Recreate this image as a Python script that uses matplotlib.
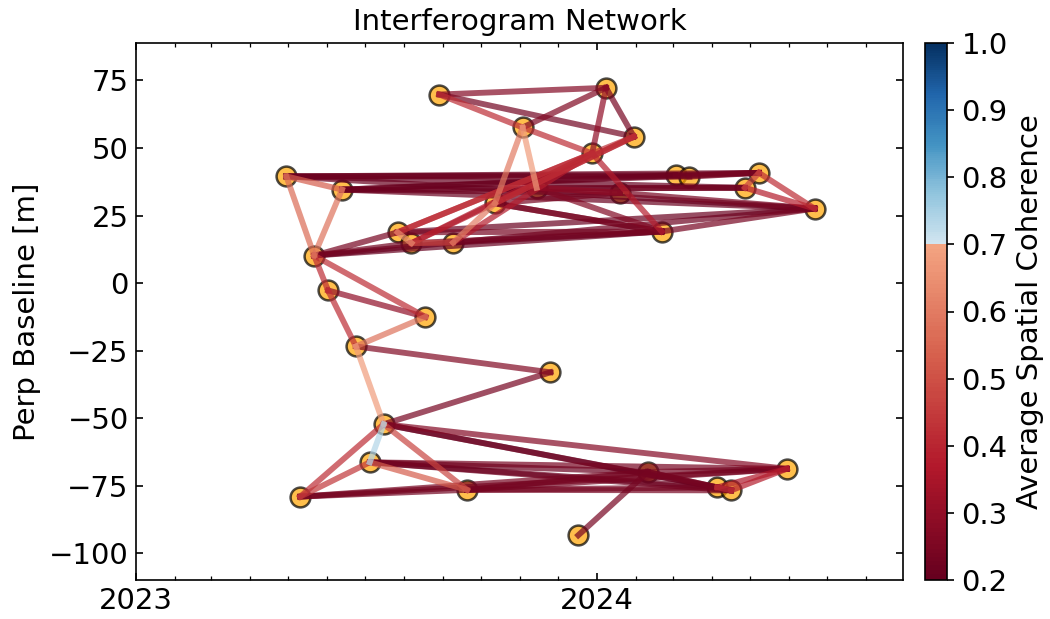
import numpy as np
import pandas as pd
import matplotlib
matplotlib.use("Agg")
import matplotlib.pyplot as plt
import matplotlib.dates as mdates
from matplotlib.colors import ListedColormap, Normalize


# acquisitions (11-day revisit, a few gaps)
dates = ["2023-04-30", "2023-05-11", "2023-05-22", "2023-06-02", "2023-06-13",
         "2023-06-24", "2023-07-05", "2023-07-16", "2023-07-27", "2023-08-07",
         "2023-08-18", "2023-08-29", "2023-09-09", "2023-09-20", "2023-10-12",
         "2023-11-03", "2023-11-14", "2023-11-25", "2023-12-17", "2023-12-28",
         "2024-01-08", "2024-01-19", "2024-01-30", "2024-02-10", "2024-02-21",
         "2024-03-03", "2024-03-14", "2024-04-05", "2024-04-16", "2024-04-27",
         "2024-05-08", "2024-05-30", "2024-06-21"]
pbase = [39.5, -79.0, 10.2, -2.7, 34.6, -23.4, -66.3, -52.2, 18.8, 14.8,
         -12.5, 69.8, 15.0, -76.5, 29.5, 57.6, 35.3, -33.0, -93.3, 48.0,
         72.3, 33.4, 54.2, -69.9, 19.1, 40.0, 39.4, -75.6, -76.7, 35.3,
         40.8, -68.7, 27.6]

# interferogram pairs (index into dates) and their average spatial coherence
ifg_ref = [0, 0, 2, 2, 2, 3, 3, 5, 5, 5,
           7, 7, 7, 6, 6, 7, 18, 27, 28, 27,
           1, 1, 1, 13, 13, 13, 13, 6, 6, 6,
           6, 7, 7, 7, 23, 23, 23,
           11, 11, 11, 15, 15, 20, 20,
           14, 16, 19, 8, 8, 9, 9, 14, 12,
           8, 9, 12, 2, 2, 2,
           0, 0, 0, 0, 0, 4, 4, 4, 4, 4,
           2, 8, 9, 12, 12, 8, 14, 16, 16, 14, 14, 16,
           25, 26, 29, 30, 29, 24, 21]
ifg_sec = [4, 2, 4, 3, 10, 10, 5, 10, 17, 7,
           6, 1, 13, 1, 13, 17, 23, 28, 31, 31,
           13, 31, 23, 23, 31, 27, 28, 23, 27, 28,
           31, 27, 28, 31, 27, 28, 31,
           20, 22, 15, 20, 19, 22, 19,
           15, 15, 24, 22, 19, 22, 19, 22, 19,
           9, 12, 14, 8, 9, 12,
           25, 26, 30, 29, 32, 25, 29, 30, 32, 21,
           24, 24, 24, 24, 32, 32, 24, 24, 29, 24, 21, 21,
           30, 30, 30, 32, 32, 32, 32]
coherence = [0.53, 0.56, 0.58, 0.42, 0.42, 0.30, 0.42, 0.58, 0.26, 0.68,
             0.74, 0.42, 0.47, 0.44, 0.53, 0.24, 0.24, 0.42, 0.38, 0.36,
             0.23, 0.24, 0.24, 0.22, 0.23, 0.23, 0.24, 0.21, 0.21, 0.22,
             0.24, 0.20, 0.21, 0.27, 0.24, 0.23, 0.23,
             0.27, 0.23, 0.42, 0.26, 0.42, 0.24, 0.30,
             0.60, 0.68, 0.38, 0.42, 0.39, 0.38, 0.36, 0.42, 0.38,
             0.64, 0.47, 0.60, 0.24, 0.23, 0.21,
             0.21, 0.22, 0.21, 0.20, 0.21, 0.21, 0.20, 0.21, 0.21, 0.22,
             0.20, 0.24, 0.23, 0.21, 0.22, 0.21, 0.24, 0.26, 0.23, 0.24, 0.24, 0.30,
             0.23, 0.24, 0.47, 0.42, 0.38, 0.24, 0.24]

cbar_ticks = [0.2, 0.3, 0.4, 0.5, 0.6, 0.7, 0.8, 0.9, 1.0]


def rdbu_truncate(vmin=0.2, vcut=0.7, vmax=1.0, n=256):
    # RdBu with the pale middle cut out at vcut
    base = plt.get_cmap("RdBu")
    n1 = int(round(n * (vcut - vmin) / (vmax - vmin)))
    c1 = base(np.linspace(0.0, 0.3, n1))
    c2 = base(np.linspace(0.6, 1.0, n - n1))
    return ListedColormap(np.vstack([c1, c2]))


dt = pd.to_datetime(dates)
pb = np.array(pbase)
cmap = rdbu_truncate()
norm = Normalize(vmin=0.2, vmax=1.0)

plt.rcParams["font.family"] = "DejaVu Sans"
fig = plt.figure(figsize=(7, 619 / 150), dpi=150)
ax = fig.add_axes([136 / 1050, 1 - 580 / 619, (903 - 136) / 1050, (580 - 43) / 619])
cax = fig.add_axes([925 / 1050, 1 - 580 / 619, 22 / 1050, (580 - 43) / 619])

ax.plot(dt, pb, "ko", ms=9.5, mew=1.2, mfc="orange", alpha=0.7, zorder=2)

# low coherence first, high coherence on top
for k in np.argsort(coherence, kind="stable"):
    i, j = ifg_ref[k], ifg_sec[k]
    ax.plot([dt[i], dt[j]], [pb[i], pb[j]], "-", lw=2.8, alpha=0.7,
            c=cmap(norm(coherence[k])), zorder=3)

prange = pb.max() - pb.min()
ax.set_ylim(pb.min() - 0.1 * prange, pb.max() + 0.1 * prange)
ax.set_xlim(pd.Timestamp("2023-01-01"), pd.Timestamp("2024-08-30"))
ax.xaxis.set_major_locator(mdates.YearLocator())
ax.xaxis.set_major_formatter(mdates.DateFormatter("%Y"))
ax.xaxis.set_minor_locator(mdates.MonthLocator())
ax.set_yticks([75, 50, 25, 0, -25, -50, -75, -100])
ax.tick_params(which="both", direction="in", labelsize=14,
               bottom=True, top=True, left=True, right=True)
ax.set_ylabel("Perp Baseline [m]", fontsize=14)
ax.set_title("Interferogram Network", fontsize=14)

sm = matplotlib.cm.ScalarMappable(norm=norm, cmap=cmap)
cb = fig.colorbar(sm, cax=cax, ticks=cbar_ticks)
cb.ax.tick_params(labelsize=14)
cb.set_label("Average Spatial Coherence", fontsize=14)

fig.savefig("out.png", dpi=150)
